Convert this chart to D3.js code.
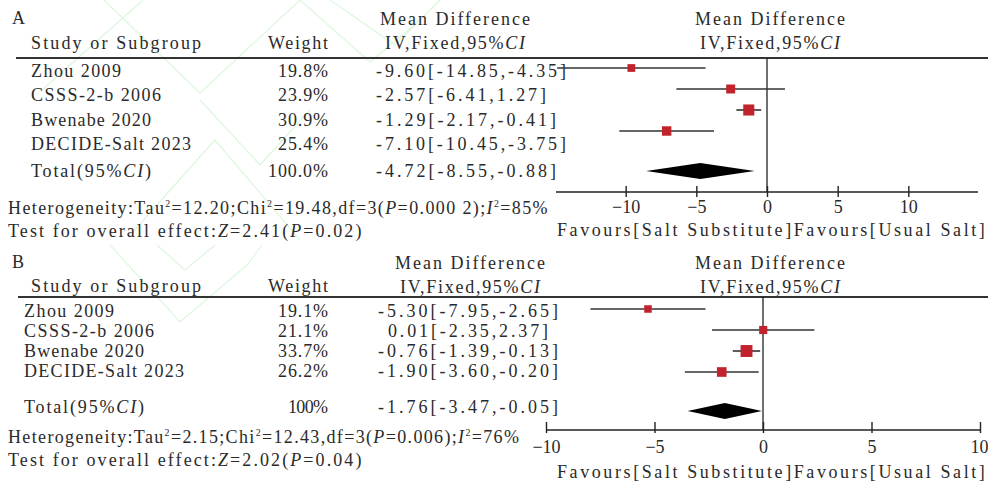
<!DOCTYPE html>
<html>
<head>
<meta charset="utf-8">
<script src="https://cdn.jsdelivr.net/npm/d3@7"></script>
<style>
body { margin: 0; background: #fff; }
svg text { font-family: "Liberation Serif", "DejaVu Serif", serif; fill: #2a2a2a; }
</style>
</head>
<body>
<script>
// data
var studies = ["Zhou 2009", "CSSS-2-b 2006", "Bwenabe 2020", "DECIDE-Salt 2023"];

var weightsA = [19.8, 23.9, 30.9, 25.4];
var mdA = [-9.60, -2.57, -1.29, -7.10];
var lowA = [-14.85, -6.41, -2.17, -10.45];
var highA = [-4.35, 1.27, -0.41, -3.75];
var totalA = {md: -4.72, low: -8.55, high: -0.88, weight: "100.0%"};
var ticksA = [-10, -5, 0, 5, 10];

var weightsB = [19.1, 21.1, 33.7, 26.2];
var mdB = [-5.30, 0.01, -0.76, -1.90];
var lowB = [-7.95, -2.35, -1.39, -3.60];
var highB = [-2.65, 2.37, -0.13, -0.20];
var totalB = {md: -1.76, low: -3.47, high: -0.05, weight: "100%"};
var ticksB = [-10, -5, 0, 5, 10];

var width = 988, height = 487;
var fs = 18;      // main font size
var cw = 10;      // width of one half-width char, like the SimSun original

var svg = d3.select("body").append("svg")
    .attr("width", width)
    .attr("height", height);

// faint watermark lines
var wm = [
  [[43, 89], [143, 0]],
  [[104, 0], [200, 93], [300, 0]],
  [[130, 235], [215, 140], [300, 240]],
  [[300, 0], [370, 62], [420, 20]],
  [[330, 0], [395, 45], [440, 0]],
  [[110, 245], [180, 322], [247, 265], [262, 245]],
  [[157, 245], [185, 270], [215, 245]],
  [[200, 100], [260, 165], [310, 110]]
];
svg.selectAll(".wm").data(wm).enter().append("polyline")
    .attr("points", function(d) { return d.join(" "); })
    .attr("fill", "none")
    .attr("stroke", "#dcf7dc")
    .attr("stroke-width", 1.2);

var fmt = d3.format(".2f");
function num(v) { return v < 0 ? "-" + fmt(-v) : fmt(v); }
function ci(m, l, h) { return num(m) + "[" + num(l) + "," + num(h) + "]"; }

// write text parts, spread them out to a monospace-like width
// part kinds: "i" italic, "s" superscript, "a" back down after a superscript
function txt(sel, parts, per) {
  if (typeof parts == "string") parts = [[parts]];
  var units = 0;
  parts.forEach(function(p) {
    var t = sel.append("tspan").text(p[0]);
    if (p[1] == "i") t.attr("font-style", "italic");
    if (p[1] == "s") t.attr("font-size", fs * 0.55).attr("dy", -7);
    if (p[1] == "a") t.attr("dy", 7);
    units += p[0].length * (p[1] == "s" ? 0.5 : 1);
  });
  sel.attr("textLength", units * (per || cw)).attr("lengthAdjust", "spacing");
  return sel;
}

function T(g, x, y, anchor) {
  return g.append("text").attr("x", x).attr("y", y).attr("font-size", fs)
    .attr("text-anchor", anchor || "start");
}

function panel(o) {
  var g = svg.append("g");

  txt(T(g, 12, o.top + 7), o.label);

  // headers
  txt(T(g, 31, o.top + o.h2), "Study or Subgroup");
  txt(T(g, 328, o.top + o.h2, "end"), "Weight");
  txt(T(g, o.mdx, o.top + 8, "middle"), "Mean Difference");
  txt(T(g, o.mdx, o.top + 32, "middle"), [["IV,Fixed,95%"], ["CI", "i"]]);
  txt(T(g, 770, o.top + 8, "middle"), "Mean Difference");
  txt(T(g, 770, o.top + 32, "middle"), [["IV,Fixed,95%"], ["CI", "i"]]);

  g.append("line").attr("x1", o.lineX).attr("x2", width)
    .attr("y1", o.lineY).attr("y2", o.lineY)
    .attr("stroke", "#333").attr("stroke-width", 2);

  // text rows
  var ty = d3.scalePoint().domain(studies).range(o.textRows);
  var rows = studies.map(function(s, i) {
    return {name: s, w: o.weights[i], md: o.md[i], lo: o.low[i], hi: o.high[i]};
  });

  rows.forEach(function(d) {
    txt(T(g, o.nameX, ty(d.name)), d.name);
    txt(T(g, 328, ty(d.name), "end"), d.w.toFixed(1) + "%");
    txt(T(g, o.effX + (d.md >= 0 ? cw : 0), ty(d.name)), ci(d.md, d.lo, d.hi));
  });

  txt(T(g, o.nameX, o.totalTextY), [["Total(95%"], ["CI", "i"], [")"]]);
  txt(T(g, 328, o.totalTextY, "end"), o.total.weight);
  txt(T(g, o.effX, o.totalTextY), ci(o.total.md, o.total.low, o.total.high));

  // plot
  var x = d3.scaleLinear().domain(o.domain).range(o.range);
  var y = d3.scalePoint().domain(studies).range(o.plotRows);
  var size = d3.scaleLinear().domain([19, 34]).range([7.5, 12]);

  g.append("line").attr("x1", x(0)).attr("x2", x(0))
    .attr("y1", o.lineY).attr("y2", o.axisY)
    .attr("stroke", "#222").attr("stroke-width", 1.3);

  g.selectAll(".ci").data(rows).enter().append("line")
    .attr("x1", function(d) { return x(d.lo); })
    .attr("x2", function(d) { return x(d.hi); })
    .attr("y1", function(d) { return y(d.name); })
    .attr("y2", function(d) { return y(d.name); })
    .attr("stroke", "#333").attr("stroke-width", 1.6);

  g.selectAll(".sq").data(rows).enter().append("rect")
    .attr("x", function(d) { return x(d.md) - size(d.w) / 2; })
    .attr("y", function(d) { return y(d.name) - size(d.w) / 2; })
    .attr("width", function(d) { return size(d.w); })
    .attr("height", function(d) { return size(d.w); })
    .attr("fill", "#c1232d");

  var dy = o.diamondY;
  g.append("path")
    .attr("d", "M" + x(o.total.low) + "," + dy + "L" + x(o.total.md) + "," + (dy - 8) +
      "L" + x(o.total.high) + "," + dy + "L" + x(o.total.md) + "," + (dy + 8) + "Z")
    .attr("fill", "#000");

  var axis = g.append("g")
    .attr("transform", "translate(0," + o.axisY + ")")
    .call(d3.axisBottom(x).tickValues(o.ticks).tickSize(0)
      .tickFormat(function(d) { return d < 0 ? "\u2212" + (-d) : d; }));
  axis.select(".domain").attr("stroke", "#222").attr("stroke-width", 1.6)
    .attr("d", "M" + o.axisX[0] + ",0H" + o.axisX[1]);
  axis.selectAll(".tick line").attr("y1", o.tickUp).attr("y2", o.tickDown)
    .attr("stroke", "#222").attr("stroke-width", 1.4);
  axis.selectAll(".tick text")
    .attr("y", o.tickTextY).attr("dy", null)
    .attr("font-size", fs)
    .style("font-family", "Liberation Serif")
    .attr("fill", "#2a2a2a")
    .attr("text-anchor", function(d) { return x(d) + 10 > width ? "end" : "middle"; })
    .attr("x", function(d) { return x(d) + 10 > width ? width - x(d) : 0; });

  txt(T(g, 557, o.axisY + o.favY), "Favours[Salt Substitute]Favours[Usual Salt]", 9.95);

  // heterogeneity
  txt(T(g, 8, o.hetY), o.het, 9.55);
  txt(T(g, 8, o.hetY + 23), o.test, 9.3);
}

panel({
  label: "A", top: 17, h2: 32, mdx: 455, lineX: 16, lineY: 58, nameX: 31, effX: 376,
  textRows: [77, 150], totalTextY: 177,
  weights: weightsA, md: mdA, low: lowA, high: highA, total: totalA, ticks: ticksA,
  domain: [-15, 15], range: [555, 979], axisX: [556, 978],
  plotRows: [68, 131], diamondY: 171, axisY: 192, tickUp: -6, tickDown: 5, tickTextY: 21,
  favY: 44, hetY: 214,
  het: [["Heterogeneity:Tau"], ["2", "s"], ["=12.20;Chi", "a"], ["2", "s"], ["=19.48,df=3(", "a"], ["P", "i"], ["=0.000 2);"],
        ["I", "i"], ["2", "s"], ["=85%", "a"]],
  test: [["Test for overall effect:"], ["Z", "i"], ["=2.41("], ["P", "i"], ["=0.02)"]]
});

panel({
  label: "B", top: 261, h2: 31, mdx: 470, lineX: 18, lineY: 297, nameX: 24, effX: 378,
  textRows: [317, 377], totalTextY: 413,
  weights: weightsB, md: mdB, low: lowB, high: highB, total: totalB, ticks: ticksB,
  domain: [-10, 10], range: [546, 980], axisX: [546, 981],
  plotRows: [309, 372], diamondY: 411, axisY: 430, tickUp: -8, tickDown: 3, tickTextY: 23,
  favY: 48, hetY: 443,
  het: [["Heterogeneity:Tau"], ["2", "s"], ["=2.15;Chi", "a"], ["2", "s"], ["=12.43,df=3(", "a"], ["P", "i"], ["=0.006);"],
        ["I", "i"], ["2", "s"], ["=76%", "a"]],
  test: [["Test for overall effect:"], ["Z", "i"], ["=2.02("], ["P", "i"], ["=0.04)"]]
});
</script>
</body>
</html>
